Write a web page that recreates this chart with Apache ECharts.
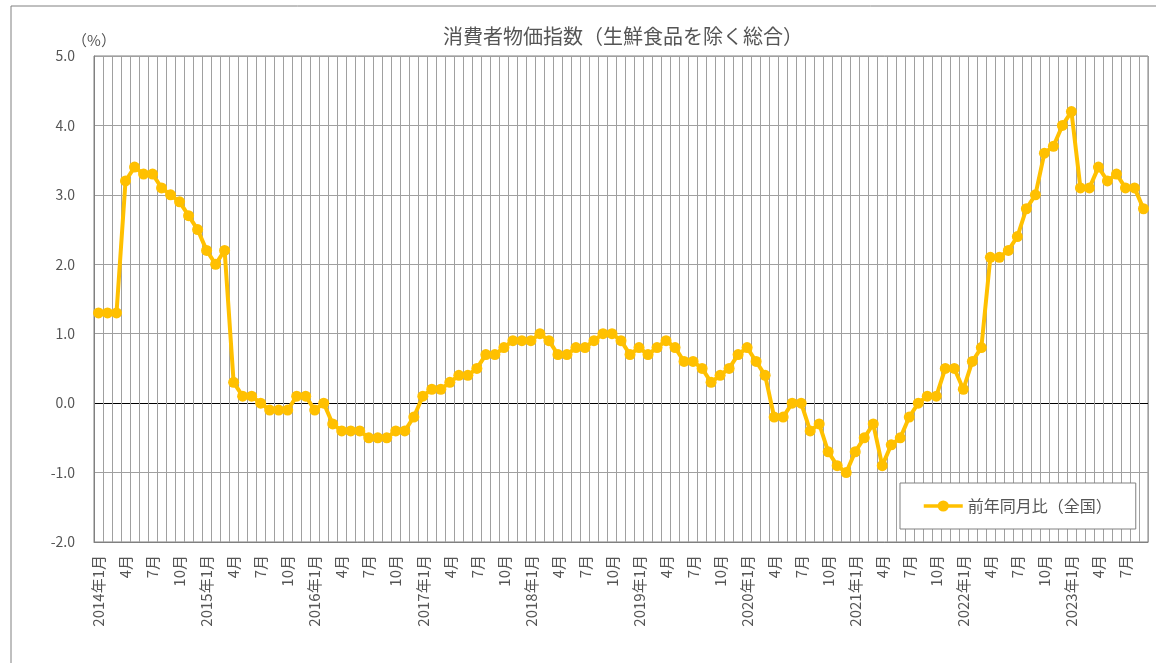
<!DOCTYPE html>
<html lang="ja">
<head>
<meta charset="utf-8">
<title>消費者物価指数（生鮮食品を除く総合）</title>
<script src="https://cdn.jsdelivr.net/npm/echarts@6/dist/echarts.min.js"></script>
<style>
  html, body { margin: 0; padding: 0; background: #ffffff; }
  #chart { width: 1156px; height: 663px; }
</style>
</head>
<body>
<div id="chart"></div>
<script>
// 前年同月比（%）, monthly, by calendar year
const cpi2014 = [1.3, 1.3, 1.3, 3.2, 3.4, 3.3, 3.3, 3.1, 3.0, 2.9, 2.7, 2.5];
const cpi2015 = [2.2, 2.0, 2.2, 0.3, 0.1, 0.1, 0.0, -0.1, -0.1, -0.1, 0.1, 0.1];
const cpi2016 = [-0.1, 0.0, -0.3, -0.4, -0.4, -0.4, -0.5, -0.5, -0.5, -0.4, -0.4, -0.2];
const cpi2017 = [0.1, 0.2, 0.2, 0.3, 0.4, 0.4, 0.5, 0.7, 0.7, 0.8, 0.9, 0.9];
const cpi2018 = [0.9, 1.0, 0.9, 0.7, 0.7, 0.8, 0.8, 0.9, 1.0, 1.0, 0.9, 0.7];
const cpi2019 = [0.8, 0.7, 0.8, 0.9, 0.8, 0.6, 0.6, 0.5, 0.3, 0.4, 0.5, 0.7];
const cpi2020 = [0.8, 0.6, 0.4, -0.2, -0.2, 0.0, 0.0, -0.4, -0.3, -0.7, -0.9, -1.0];
const cpi2021 = [-0.7, -0.5, -0.3, -0.9, -0.6, -0.5, -0.2, 0.0, 0.1, 0.1, 0.5, 0.5];
const cpi2022 = [0.2, 0.6, 0.8, 2.1, 2.1, 2.2, 2.4, 2.8, 3.0, 3.6, 3.7, 4.0];
const cpi2023 = [4.2, 3.1, 3.1, 3.4, 3.2, 3.3, 3.1, 3.1, 2.8];

const years = [2014, 2015, 2016, 2017, 2018, 2019, 2020, 2021, 2022, 2023];
const yearly = [cpi2014, cpi2015, cpi2016, cpi2017, cpi2018, cpi2019, cpi2020, cpi2021, cpi2022, cpi2023];

const titleText = '消費者物価指数（生鮮食品を除く総合）';
const seriesName = '前年同月比（全国）';
const yTicks = [-2, -1, 0, 1, 2, 3, 4, 5];

// Month labels: January carries the year
const categories = [];
const values = [];
years.forEach((y, k) => {
  yearly[k].forEach((v, i) => {
    const m = i + 1;
    categories.push(m === 1 ? y + '年1月' : m + '月');
    values.push(v);
  });
});

const FONT = '"Noto Sans CJK JP", "Noto Sans", sans-serif';
const TEXT_GREY = '#555555';
const GRID_GREY = '#a0a0a0';
const GOLD = '#FFC000';
// horizontal lines: black at zero, grey elsewhere
const hLineColors = yTicks.map(t => (t === 0 ? '#000000' : GRID_GREY));

const chart = echarts.init(document.getElementById('chart'), null, { renderer: 'canvas' });

chart.setOption({
  animation: false,
  backgroundColor: '#ffffff',
  textStyle: { fontFamily: FONT },
  graphic: [{
    type: 'rect',
    silent: true,
    z: -10,
    shape: { x: 11, y: 6, width: 1300, height: 800 },
    style: { fill: 'none', stroke: '#808080', lineWidth: 1 }
  }],
  title: {
    text: titleText,
    left: 443,
    top: 26,
    padding: 0,
    textStyle: { fontFamily: FONT, fontSize: 20, fontWeight: 'normal', color: TEXT_GREY }
  },
  legend: {
    data: [seriesName],
    left: 900,
    top: 483,
    orient: 'horizontal',
    backgroundColor: '#ffffff',
    borderColor: '#808080',
    borderWidth: 1,
    padding: [14, 24, 14, 22],
    itemWidth: 39,
    itemHeight: 14,
    lineStyle: { width: 3.5, color: GOLD },
    itemStyle: { color: GOLD },
    textStyle: { fontFamily: FONT, fontSize: 16, color: TEXT_GREY, lineHeight: 18 }
  },
  grid: {
    left: 94,
    top: 56,
    right: 8,
    bottom: 121,
    containLabel: false,
    show: true,
    borderColor: '#808080',
    borderWidth: 1
  },
  xAxis: {
    type: 'category',
    data: categories,
    boundaryGap: true,
    axisLine: { show: true, onZero: false, lineStyle: { color: '#808080', width: 1 } },
    axisTick: { show: false },
    axisLabel: {
      interval: 2,
      rotate: 90,
      margin: 13,
      fontFamily: FONT,
      fontSize: 15,
      color: TEXT_GREY
    },
    splitLine: { show: true, interval: 0, lineStyle: { color: GRID_GREY, width: 1 } }
  },
  yAxis: {
    type: 'value',
    min: -2,
    max: 5,
    interval: 1,
    name: '（%）',
    nameLocation: 'end',
    nameGap: 8,
    nameTextStyle: { fontFamily: FONT, fontSize: 15, color: TEXT_GREY },
    axisLine: { show: true, lineStyle: { color: '#808080', width: 1 } },
    axisTick: { show: false },
    axisLabel: {
      margin: 19,
      fontFamily: FONT,
      fontSize: 14,
      color: TEXT_GREY,
      formatter: v => v.toFixed(1)
    },
    splitLine: { show: true, lineStyle: { color: hLineColors, width: 1 } }
  },
  series: [{
    name: seriesName,
    type: 'line',
    data: values,
    showAllSymbol: true,
    symbol: 'circle',
    symbolSize: 11,
    lineStyle: { color: GOLD, width: 4 },
    itemStyle: { color: GOLD },
    z: 5
  }]
});
</script>
</body>
</html>
